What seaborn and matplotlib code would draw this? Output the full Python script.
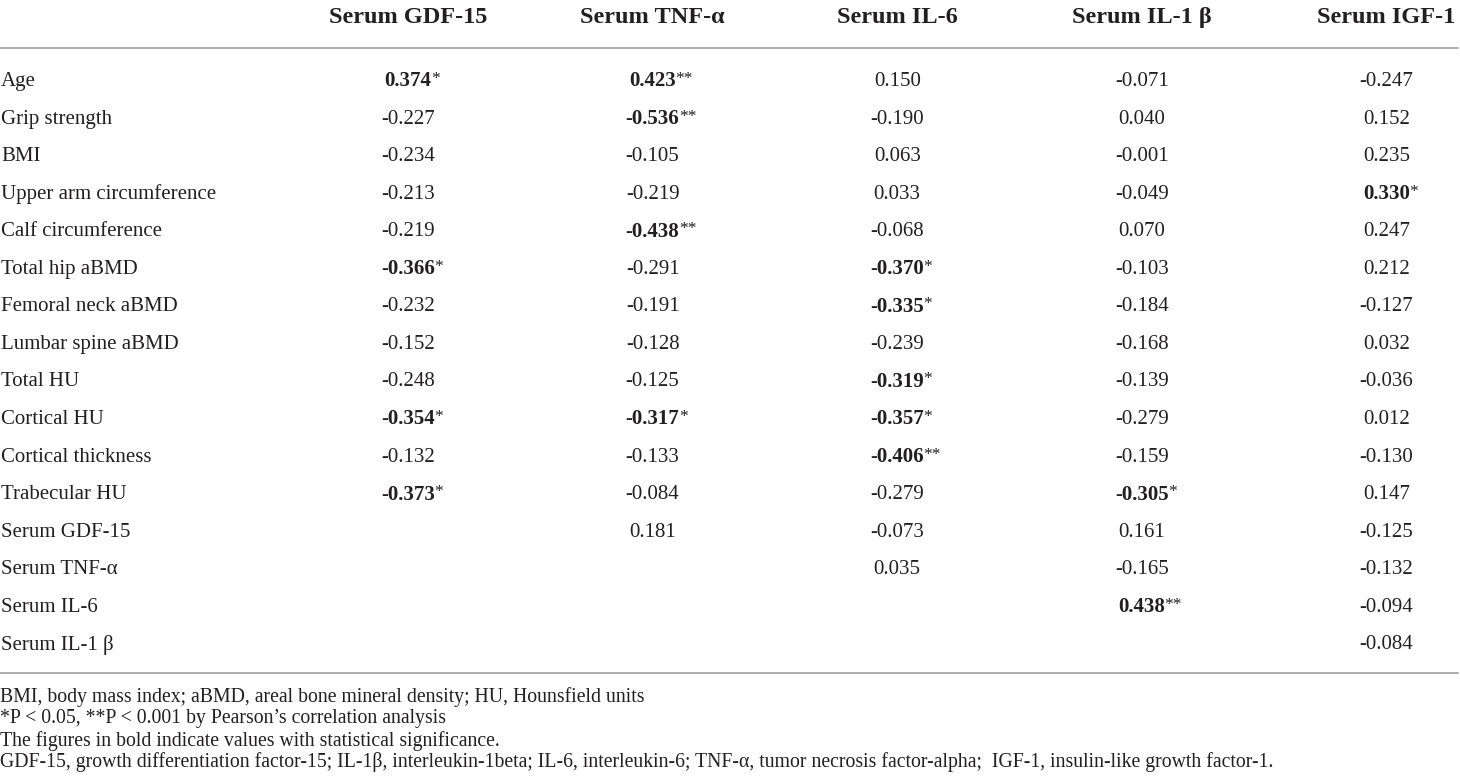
import numpy as np
import pandas as pd
import matplotlib
matplotlib.use('Agg')
import matplotlib.pyplot as plt
from matplotlib.colors import ListedColormap
import seaborn as sns

# table content
row_labels = ['Age', 'Grip strength', 'BMI', 'Upper arm circumference', 'Calf circumference',
              'Total hip aBMD', 'Femoral neck aBMD', 'Lumbar spine aBMD', 'Total HU', 'Cortical HU',
              'Cortical thickness', 'Trabecular HU', 'Serum GDF-15', 'Serum TNF-α', 'Serum IL-6',
              'Serum IL-1 β']
col_labels = ['Serum GDF-15', 'Serum TNF-α', 'Serum IL-6', 'Serum IL-1 β', 'Serum IGF-1']

gdf15 = [0.374, -0.227, -0.234, -0.213, -0.219, -0.366, -0.232, -0.152, -0.248, -0.354, -0.132, -0.373,
         None, None, None, None]
tnf = [0.423, -0.536, -0.105, -0.219, -0.438, -0.291, -0.191, -0.128, -0.125, -0.317, -0.133, -0.084,
       0.181, None, None, None]
il6 = [0.150, -0.190, 0.063, 0.033, -0.068, -0.370, -0.335, -0.239, -0.319, -0.357, -0.406, -0.279,
       -0.073, 0.035, None, None]
il1b = [-0.071, 0.040, -0.001, -0.049, 0.070, -0.103, -0.184, -0.168, -0.139, -0.279, -0.159, -0.305,
        0.161, -0.165, 0.438, None]
igf1 = [-0.247, 0.152, 0.235, 0.330, 0.247, 0.212, -0.127, 0.032, -0.036, 0.012, -0.130, 0.147,
        -0.125, -0.132, -0.094, -0.084]

# significance marks (bold values)
gdf15_sig = ['*', '', '', '', '', '*', '', '', '', '*', '', '*', '', '', '', '']
tnf_sig = ['**', '**', '', '', '**', '', '', '', '', '*', '', '', '', '', '', '']
il6_sig = ['', '', '', '', '', '*', '*', '', '*', '*', '**', '', '', '', '', '']
il1b_sig = ['', '', '', '', '', '', '', '', '', '', '', '*', '', '', '**', '']
igf1_sig = ['', '', '', '*', '', '', '', '', '', '', '', '', '', '', '', '']

footnotes = [
    'BMI, body mass index; aBMD, areal bone mineral density; HU, Hounsfield units',
    '*P < 0.05, **P < 0.001 by Pearson’s correlation analysis',
    'The figures in bold indicate values with statistical significance.',
    'GDF-15, growth differentiation factor-15; IL-1β, interleukin-1beta; IL-6, interleukin-6; '
    'TNF-α, tumor necrosis factor-alpha;  IGF-1, insulin-like growth factor-1.',
]

df = pd.DataFrame({c: v for c, v in zip(col_labels, [gdf15, tnf, il6, il1b, igf1])},
                  index=row_labels).astype(float)
sig = pd.DataFrame({c: v for c, v in zip(col_labels, [gdf15_sig, tnf_sig, il6_sig, il1b_sig, igf1_sig])},
                   index=row_labels)

sns.set_style('white')
plt.rcParams['font.family'] = ['Liberation Serif', 'DejaVu Serif']
TXT = '#231f20'
RULE = '#a6a6a6'

# page layout in pixels
W, H = 1460, 784
col0_px, col_step = 408, 244.6
row0_px, row_step = 79, 37.55


def ypx(p):
    return 0.5 + (p - row0_px) / row_step


def xpx(p):
    return 0.5 + (p - col0_px) / col_step


fig = plt.figure(figsize=(W / 100, H / 100), dpi=100)
ax = fig.add_axes([0, 0, 1, 1])
sns.heatmap(df, ax=ax, cmap=ListedColormap(['white']), cbar=False,
            xticklabels=False, yticklabels=False)
ax.set_xlim(xpx(0), xpx(W))
ax.set_ylim(ypx(H), ypx(0))
ax.axis('off')

# header
for j, c in enumerate(col_labels):
    ax.text(j + 0.5, ypx(15), c, ha='center', va='center_baseline', fontsize=17.5,
            fontweight='bold', color=TXT)

# rules
ax.plot([xpx(0), xpx(W - 2)], [ypx(48), ypx(48)], color=RULE, lw=1.3)
ax.plot([xpx(0), xpx(W - 2)], [ypx(673), ypx(673)], color=RULE, lw=1.3)

# rows
for i, r in enumerate(row_labels):
    ax.text(xpx(1), i + 0.5, r, ha='left', va='center_baseline', fontsize=15, color=TXT)
    for j, c in enumerate(col_labels):
        v = df.loc[r, c]
        if np.isnan(v):
            continue
        star = sig.loc[r, c]
        t = ax.text(j + 0.5, i + 0.5, f'{v:.3f}', ha='center', va='center_baseline', fontsize=15,
                    fontweight='bold' if star else 'normal', color=TXT)
        if star:
            ax.annotate(star, xy=(1.0, 0.62), xycoords=t, xytext=(-0.5, 0),
                        textcoords='offset points', ha='left', va='center',
                        fontsize=12.5, color=TXT)

# footnotes
for k, note in enumerate(footnotes):
    ax.text(xpx(0), ypx(697 + 21.8 * k), note, ha='left', va='center', fontsize=14.2, color=TXT)

fig.savefig('out.png', dpi=100)
